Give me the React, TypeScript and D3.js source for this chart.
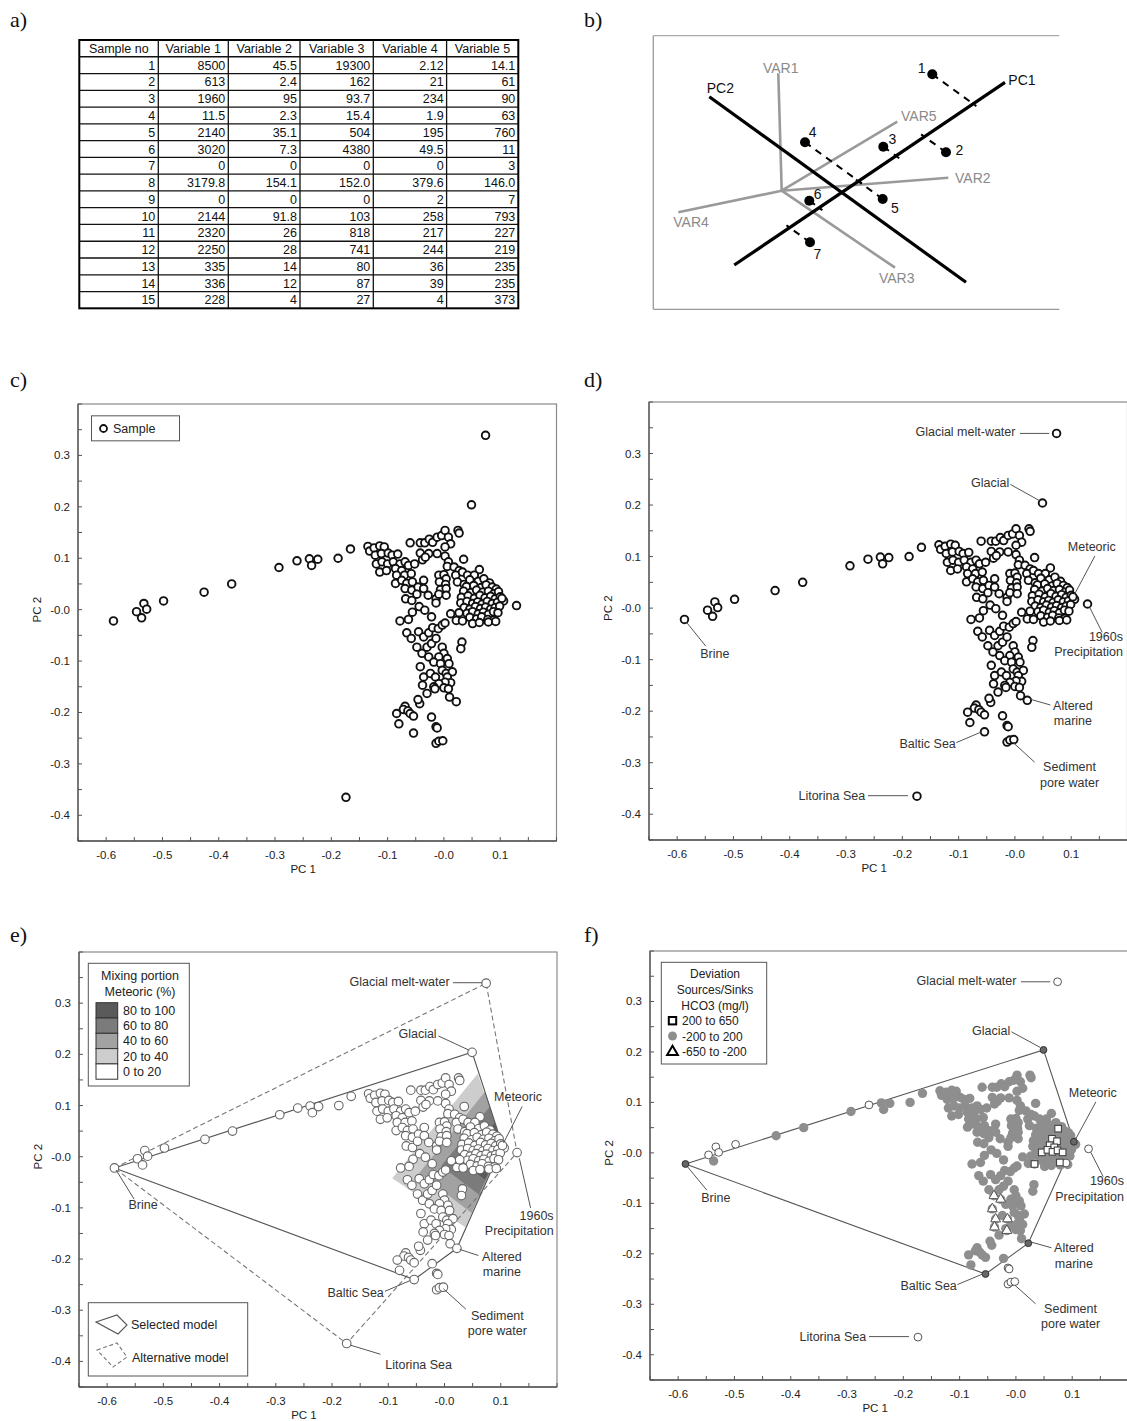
import React from 'react';
import * as d3 from 'd3';

const FONT = '"Liberation Sans", Arial, Helvetica, sans-serif';
const SERIF = '"Liberation Serif", "Times New Roman", serif';

// ---- a) table ----
const tableHeader = ['Sample no', 'Variable 1', 'Variable 2', 'Variable 3', 'Variable 4', 'Variable 5'];
const sampleNos = ['1', '2', '3', '4', '5', '6', '7', '8', '9', '10', '11', '12', '13', '14', '15'];
const variable1 = ['8500', '613', '1960', '11.5', '2140', '3020', '0', '3179.8', '0', '2144', '2320', '2250', '335', '336', '228'];
const variable2 = ['45.5', '2.4', '95', '2.3', '35.1', '7.3', '0', '154.1', '0', '91.8', '26', '28', '14', '12', '4'];
const variable3 = ['19300', '162', '93.7', '15.4', '504', '4380', '0', '152.0', '0', '103', '818', '741', '80', '87', '27'];
const variable4 = ['2.12', '21', '234', '1.9', '195', '49.5', '0', '379.6', '2', '258', '217', '244', '36', '39', '4'];
const variable5 = ['14.1', '61', '90', '63', '760', '11', '3', '146.0', '7', '793', '227', '219', '235', '235', '373'];

// ---- b) schematic (sketch units) ----
const schemeAxes = [
  { name: 'PC1', from: [94.3, 240], to: [365, 57.3], label: [368.3, 55] },
  { name: 'PC2', from: [69.3, 71.7], to: [326, 257.3], label: [66.7, 63.3] },
];
const varOrigin = [141.7, 165.7];
const schemeVars = [
  { name: 'VAR1', tip: [138.3, 48.3], label: [140.7, 42.7], anchor: 'middle' },
  { name: 'VAR5', tip: [257.3, 96.7], label: [261, 90.7], anchor: 'start' },
  { name: 'VAR2', tip: [308.3, 152.7], label: [315, 152.7], anchor: 'start' },
  { name: 'VAR4', tip: [38.3, 187.3], label: [33.3, 197.3], anchor: 'start' },
  { name: 'VAR3', tip: [255, 242.7], label: [256.7, 253.3], anchor: 'middle' },
];
const schemePoints = [
  { id: '1', p: [292.3, 49.3], label: [281.7, 42.7] },
  { id: '2', p: [306, 127.3], label: [319.3, 125] },
  { id: '3', p: [243.3, 121.7], label: [252.3, 114] },
  { id: '4', p: [165, 117.3], label: [172.7, 107.3] },
  { id: '5', p: [242.7, 174], label: [255, 183.3] },
  { id: '6', p: [169.3, 175.7], label: [177.7, 169.3] },
  { id: '7', p: [170, 217.3], label: [177.3, 228.7] },
];

// ---- c-f) PCA scores: [PC1, PC2, HCO3 class] g=-200..200, s=200..650, t=-650..-200, n=outside model
type S = [number, number, string?];
const brineArm: S[] = [
  [-0.546, -0.004, 'n'], [-0.533, 0.012, 'n'], [-0.528, 0.001, 'n'], [-0.537, -0.016], [-0.498, 0.017, 'n'],
  [-0.426, 0.034], [-0.377, 0.05], [-0.293, 0.082], [-0.261, 0.095, 'n'], [-0.239, 0.099], [-0.235, 0.086],
  [-0.224, 0.098], [-0.188, 0.1], [-0.166, 0.118],
];
const upperLeft: S[] = [
  [-0.135, 0.123], [-0.132, 0.114], [-0.124, 0.12], [-0.114, 0.124], [-0.106, 0.122], [-0.122, 0.106],
  [-0.111, 0.109], [-0.099, 0.11], [-0.092, 0.106], [-0.082, 0.108], [-0.12, 0.089], [-0.11, 0.093],
  [-0.1, 0.089], [-0.09, 0.093], [-0.078, 0.089], [-0.069, 0.093], [-0.114, 0.073], [-0.102, 0.076],
  [-0.086, 0.08], [-0.075, 0.076], [-0.063, 0.086], [-0.052, 0.089], [-0.084, 0.067], [-0.07, 0.067],
  [-0.058, 0.07], [-0.086, 0.051], [-0.075, 0.057], [-0.066, 0.051], [-0.056, 0.054], [-0.069, 0.041],
  [-0.057, 0.038], [-0.046, 0.044], [-0.036, 0.057], [-0.068, 0.021], [-0.057, 0.018], [-0.048, 0.03],
  [-0.036, 0.041], [-0.028, 0.028], [-0.014, 0.021], [-0.056, -0.005], [-0.044, 0.006], [-0.034, -0.001],
  [-0.022, -0.014], [-0.078, -0.022], [-0.063, -0.019],
];
const upperMiddle: S[] = [
  [-0.06, 0.13], [-0.042, 0.13], [-0.034, 0.13], [-0.026, 0.137], [-0.02, 0.131], [-0.012, 0.141],
  [-0.004, 0.144], [0.002, 0.154], [0.008, 0.141], [0.012, 0.128], [0.002, 0.122], [-0.012, 0.109],
  [-0.027, 0.109], [-0.042, 0.11], [-0.038, 0.097], [-0.033, 0.102], [0.002, 0.104], [0.008, 0.093],
  [0.006, 0.084], [0.018, 0.083], [0.025, 0.154], [0.027, 0.149], [0.035, 0.098], [0.027, 0.076],
  [0.021, 0.067], [0.033, 0.073], [0.042, 0.067], [0.05, 0.058], [0.063, 0.078], [0.054, 0.067],
  [0.024, 0.054], [0.036, 0.049],
];
const midColumn: S[] = [
  [-0.009, 0.067], [0.0, 0.068], [0.004, 0.06], [-0.008, 0.054], [0.003, 0.049], [-0.006, 0.039],
  [0.004, 0.041], [-0.009, 0.03], [0.004, 0.028], [-0.014, 0.013],
];
const rightCluster: S[] = [
  [0.046, 0.058], [0.061, 0.055], [0.071, 0.06], [0.081, 0.052],
  [0.04, 0.045], [0.053, 0.047], [0.066, 0.043], [0.075, 0.048, 's'], [0.086, 0.044], [0.093, 0.04],
  [0.035, 0.036], [0.048, 0.033], [0.058, 0.038], [0.069, 0.034], [0.079, 0.036], [0.089, 0.031], [0.097, 0.035],
  [0.031, 0.024], [0.043, 0.027], [0.054, 0.022], [0.064, 0.028, 's'], [0.073, 0.023, 's'], [0.083, 0.026],
  [0.091, 0.021], [0.1, 0.025],
  [0.03, 0.013], [0.041, 0.016], [0.051, 0.012], [0.06, 0.015, 's'], [0.068, 0.011, 's'], [0.077, 0.016],
  [0.086, 0.012], [0.095, 0.014], [0.106, 0.017],
  [0.036, 0.004], [0.046, 0.001, 's'], [0.056, 0.006, 's'], [0.065, 0.002, 's'], [0.074, 0.005, 's'],
  [0.083, 0.001, 's'], [0.091, 0.004], [0.099, 0.007],
  [0.041, -0.007], [0.051, -0.004], [0.061, -0.008], [0.07, -0.005], [0.079, -0.009], [0.088, -0.004], [0.096, -0.006],
  [0.046, -0.015], [0.058, -0.018], [0.067, -0.014], [0.078, -0.019, 's'], [0.089, -0.02, 'n'],
  [0.051, -0.027], [0.063, -0.025], [0.079, -0.024], [0.092, -0.023],
  [0.012, -0.008], [0.022, -0.021], [0.033, -0.022, 's'], [0.027, -0.006],
];
const lowerArm: S[] = [
  [-0.066, -0.045], [-0.058, -0.056], [-0.045, -0.043], [-0.036, -0.053], [-0.027, -0.045], [-0.02, -0.035],
  [-0.01, -0.037], [-0.003, -0.03], [0.002, -0.026], [-0.048, -0.073], [-0.039, -0.085, 't'], [-0.03, -0.073],
  [-0.022, -0.066], [-0.014, -0.056], [-0.003, -0.073], [0.0, -0.085], [0.006, -0.095], [-0.009, -0.092],
  [-0.027, -0.092, 't'], [-0.018, -0.102], [-0.006, -0.105], [0.009, -0.105], [-0.042, -0.111, 't'],
  [-0.036, -0.131, 't'], [-0.024, -0.124], [-0.015, -0.131, 't'], [-0.003, -0.118], [0.004, -0.124],
  [0.015, -0.121], [0.006, -0.131], [0.012, -0.142], [0.002, -0.141], [-0.009, -0.144], [-0.018, -0.15],
  [-0.038, -0.147, 't'], [-0.03, -0.163], [-0.016, -0.154, 't'], [0.0, -0.152], [0.008, -0.154],
  [0.01, -0.17], [0.032, -0.063], [0.03, -0.076],
];
const lowerScatter: S[] = [
  [-0.069, -0.188], [-0.072, -0.194], [-0.064, -0.197], [-0.06, -0.202], [-0.054, -0.207], [-0.084, -0.202],
  [-0.08, -0.222], [-0.043, -0.183], [-0.046, -0.175], [-0.022, -0.209], [-0.014, -0.228, 'n'],
  [-0.012, -0.23, 'n'], [-0.014, -0.26, 'n'], [-0.009, -0.256, 'n'], [-0.002, -0.255, 'n'],
];
const samples: S[] = [...brineArm, ...upperLeft, ...upperMiddle, ...midColumn, ...rightCluster, ...lowerArm, ...lowerScatter];

const endMembers = [
  { name: 'Brine', x: -0.587, y: -0.022, model: true },
  { name: 'Glacial melt-water', x: 0.074, y: 0.339, model: false },
  { name: 'Glacial', x: 0.049, y: 0.204, model: true },
  { name: 'Meteoric', x: 0.103, y: 0.022, model: true },
  { name: '1960s Precipitation', x: 0.129, y: 0.008, model: false },
  { name: 'Altered marine', x: 0.022, y: -0.179, model: true },
  { name: 'Baltic Sea', x: -0.054, y: -0.24, model: true },
  { name: 'Litorina Sea', x: -0.174, y: -0.365, model: false },
];
const selectedModel = ['Brine', 'Glacial', 'Meteoric', 'Altered marine', 'Baltic Sea'];
const alternativeModel = ['Brine', 'Glacial melt-water', '1960s Precipitation', 'Litorina Sea'];

// meteoric mixing portion contours: [on Glacial-Meteoric edge, apex, on Meteoric-Altered edge]
const mixLegend = ['80 to 100', '60 to 80', '40 to 60', '20 to 40', '0 to 20'];
const mixColors = ['#5a5a5a', '#7b7b7b', '#a2a2a2', '#cdcdcd', '#ffffff'];
const mixBands = [
  { level: 20, pts: [[0.059, 0.162], [-0.093, -0.042], [0.037, -0.138]] },
  { level: 40, pts: [[0.072, 0.127], [-0.045, -0.032], [0.048, -0.11]] },
  { level: 60, pts: [[0.08, 0.097], [-0.006, -0.018], [0.061, -0.074]] },
  { level: 80, pts: [[0.089, 0.065], [0.031, -0.01], [0.072, -0.045]] },
];

const hco3Legend = ['200 to 650', '-200 to 200', '-650 to -200'];

type Lab = { lines: string[]; x: number; y: number; anchor: string; leader: number[] };
const labelsDF: Lab[] = [
  { lines: ['Glacial melt-water'], x: 0.001, y: 0.341, anchor: 'end', leader: [0.009, 0.339, 0.061, 0.339] },
  { lines: ['Glacial'], x: -0.01, y: 0.242, anchor: 'end', leader: [-0.008, 0.24, 0.043, 0.209] },
  { lines: ['Meteoric'], x: 0.094, y: 0.119, anchor: 'start', leader: [0.142, 0.101, 0.106, 0.027] },
  { lines: ['1960s', 'Precipitation'], x: 0.192, y: -0.056, anchor: 'end', leader: [0.133, 0.001, 0.155, -0.047] },
  { lines: ['Brine'], x: -0.533, y: -0.09, anchor: 'middle', leader: [-0.583, -0.028, -0.549, -0.074] },
  { lines: ['Altered', 'marine'], x: 0.103, y: -0.189, anchor: 'middle', leader: [0.028, -0.177, 0.063, -0.188] },
  { lines: ['Baltic Sea'], x: -0.105, y: -0.263, anchor: 'end', leader: [-0.104, -0.261, -0.059, -0.24] },
  { lines: ['Sediment', 'pore water'], x: 0.097, y: -0.309, anchor: 'middle', leader: [-0.002, -0.262, 0.035, -0.299] },
  { lines: ['Litorina Sea'], x: -0.266, y: -0.364, anchor: 'end', leader: [-0.261, -0.364, -0.19, -0.364] },
];
const labelsE: Lab[] = [
  { lines: ['Glacial melt-water'], x: 0.009, y: 0.342, anchor: 'end', leader: [0.015, 0.34, 0.067, 0.34] },
  { lines: ['Glacial'], x: -0.014, y: 0.239, anchor: 'end', leader: [-0.011, 0.236, 0.044, 0.208] },
  { lines: ['Meteoric'], x: 0.088, y: 0.117, anchor: 'start', leader: [0.138, 0.098, 0.105, 0.027] },
  { lines: ['1960s', 'Precipitation'], x: 0.194, y: -0.115, anchor: 'end', leader: [0.133, -0.003, 0.153, -0.1] },
  { lines: ['Brine'], x: -0.536, y: -0.094, anchor: 'middle', leader: [-0.584, -0.026, -0.552, -0.083] },
  { lines: ['Altered', 'marine'], x: 0.102, y: -0.195, anchor: 'middle', leader: [0.027, -0.181, 0.06, -0.193] },
  { lines: ['Baltic Sea'], x: -0.108, y: -0.266, anchor: 'end', leader: [-0.106, -0.263, -0.061, -0.242] },
  { lines: ['Sediment', 'pore water'], x: 0.094, y: -0.311, anchor: 'middle', leader: [-0.002, -0.258, 0.038, -0.298] },
  { lines: ['Litorina Sea'], x: -0.046, y: -0.407, anchor: 'middle', leader: [-0.168, -0.368, -0.114, -0.386] },
];

// ---- layout ----
type Frame = { l: number; r: number; t: number; b: number };
const frameC: Frame = { l: 78, r: 556.5, t: 404, b: 841 };
const frameD: Frame = { l: 649, r: 1127.5, t: 402, b: 840 };
const frameE: Frame = { l: 79, r: 557, t: 952, b: 1387 };
const frameF: Frame = { l: 650, r: 1128.5, t: 951, b: 1380 };

function scalesFor(f: Frame) {
  const x = d3.scaleLinear().domain([-0.65, 0.2]).range([f.l, f.r]);
  const y = d3.scaleLinear().domain([-0.45, 0.4]).range([f.b, f.t]);
  return { x, y };
}

const tickFmt = (v: number) => (Math.abs(v) < 1e-9 ? '-0.0' : v.toFixed(1));
const emByName = (n: string) => endMembers.find((e) => e.name === n)!;

function Axes({ f, x, y }: { f: Frame; x: any; y: any }) {
  const xt = d3.range(-13, 5).map((i) => i * 0.05);
  const yt = d3.range(-9, 9).map((i) => i * 0.05);
  return (
    <g fontFamily={FONT} fontSize={11.5} fill="#222">
      <rect x={f.l} y={f.t} width={f.r - f.l} height={f.b - f.t} fill="none" stroke="#8a8a8a" strokeWidth={1.2} />
      <line x1={f.l} x2={f.l} y1={f.t} y2={f.b} stroke="#555" strokeWidth={1.3} />
      <line x1={f.l} x2={f.r} y1={f.b} y2={f.b} stroke="#555" strokeWidth={1.3} />
      {xt.map((v, i) => (
        <line key={'xt' + i} x1={x(v)} x2={x(v)} y1={f.b} y2={f.b - 4} stroke="#555" />
      ))}
      {yt.map((v, i) => (
        <line key={'yt' + i} x1={f.l} x2={f.l + 4} y1={y(v)} y2={y(v)} stroke="#555" />
      ))}
      {xt.filter((v, i) => i % 2 === 1 && v > -0.61 && v < 0.11).map((v, i) => (
        <text key={'xl' + i} x={x(v)} y={f.b + 18} textAnchor="middle">{tickFmt(v)}</text>
      ))}
      {yt.filter((v, i) => i % 2 === 1 && v > -0.41 && v < 0.31).map((v, i) => (
        <text key={'yl' + i} x={f.l - 8} y={y(v) + 4} textAnchor="end">{tickFmt(v)}</text>
      ))}
      <text x={x(-0.25)} y={f.b + 32} textAnchor="middle">PC 1</text>
      <text transform={`translate(${f.l - 37},${y(0)}) rotate(-90)`} textAnchor="middle">PC 2</text>
    </g>
  );
}

function Labels({ items, x, y }: { items: Lab[]; x: any; y: any }) {
  return (
    <g fontFamily={FONT} fontSize={12.5} fill="#333">
      {items.map((d, i) => (
        <g key={i}>
          <line x1={x(d.leader[0])} y1={y(d.leader[1])} x2={x(d.leader[2])} y2={y(d.leader[3])} stroke="#555" strokeWidth={1} />
          {d.lines.map((t, j) => (
            <text key={j} x={x(d.x)} y={y(d.y) + j * 15.5} textAnchor={d.anchor as any} dominantBaseline="central">{t}</text>
          ))}
        </g>
      ))}
    </g>
  );
}

function Table() {
  const colW = [79, 70, 71.7, 73.3, 73.3, 71.7];
  const x0 = 79.3, y0 = 40, rowH = 16.77;
  const colX = colW.reduce((acc, w) => [...acc, acc[acc.length - 1] + w], [x0]);
  const columns = [sampleNos, variable1, variable2, variable3, variable4, variable5];
  const nRows = sampleNos.length + 1;
  const h = nRows * rowH;
  return (
    <g fontFamily={FONT} fontSize={12.5} fill="#111">
      <rect x={x0} y={y0} width={colX[6] - x0} height={h} fill="#fff" stroke="#000" strokeWidth={2} />
      {d3.range(1, nRows).map((r) => (
        <line key={'r' + r} x1={x0} x2={colX[6]} y1={y0 + r * rowH} y2={y0 + r * rowH} stroke="#111" strokeWidth={1.3} />
      ))}
      {colX.slice(1, 6).map((cx, i) => (
        <line key={'c' + i} x1={cx} x2={cx} y1={y0} y2={y0 + h} stroke="#111" strokeWidth={1.3} />
      ))}
      {tableHeader.map((t, i) => (
        <text key={'h' + i} x={(colX[i] + colX[i + 1]) / 2} y={y0 + rowH / 2 + 4.5} textAnchor="middle">{t}</text>
      ))}
      {columns.map((col, ci) =>
        col.map((v, ri) => (
          <text key={ci + '-' + ri} x={colX[ci + 1] - 3} y={y0 + (ri + 1) * rowH + rowH / 2 + 4.5} textAnchor="end">{v}</text>
        ))
      )}
    </g>
  );
}

function Scheme() {
  const sx = d3.scaleLinear().domain([0, 480]).range([640, 1120]);
  const sy = d3.scaleLinear().domain([0, 290]).range([25, 315]);
  const a1 = schemeAxes[0], a2 = schemeAxes[1];
  const d1 = [a1.to[0] - a1.from[0], a1.to[1] - a1.from[1]];
  const d2 = [a2.to[0] - a2.from[0], a2.to[1] - a2.from[1]];
  const n2 = Math.hypot(d2[0], d2[1]);
  // foot of each sample along the PC2 direction on the PC1 line
  const project = (p: number[]) => {
    const ax = a1.from[0] - p[0], ay = a1.from[1] - p[1];
    const det = -d2[0] * d1[1] + d1[0] * d2[1];
    const s = (ax * -d1[1] + d1[0] * ay) / det;
    const ext = (s >= 0 ? 4 : -4) / n2;
    return [p[0] + (s + ext) * d2[0], p[1] + (s + ext) * d2[1]];
  };
  return (
    <g fontFamily={FONT} fontSize={14}>
      <line x1={sx(13.3)} x2={sx(13.3)} y1={sy(10.7)} y2={sy(284.3)} stroke="#999" strokeWidth={1.3} />
      <line x1={sx(13.3)} x2={sx(419.3)} y1={sy(10.7)} y2={sy(10.7)} stroke="#aaa" strokeWidth={1.3} />
      <line x1={sx(13.3)} x2={sx(419.3)} y1={sy(284.3)} y2={sy(284.3)} stroke="#999" strokeWidth={1.3} />
      {schemeVars.map((v) => (
        <g key={v.name}>
          <line x1={sx(varOrigin[0])} y1={sy(varOrigin[1])} x2={sx(v.tip[0])} y2={sy(v.tip[1])} stroke="#9a9a9a" strokeWidth={2.6} />
          <text x={sx(v.label[0])} y={sy(v.label[1])} textAnchor={v.anchor as any} dominantBaseline="central" fill="#8a8a8a">{v.name}</text>
        </g>
      ))}
      {schemePoints.map((p) => {
        const q = project(p.p);
        return (
          <line key={'pr' + p.id} x1={sx(p.p[0])} y1={sy(p.p[1])} x2={sx(q[0])} y2={sy(q[1])} stroke="#000" strokeWidth={2} strokeDasharray="7 6" />
        );
      })}
      {schemeAxes.map((a) => (
        <g key={a.name}>
          <line x1={sx(a.from[0])} y1={sy(a.from[1])} x2={sx(a.to[0])} y2={sy(a.to[1])} stroke="#000" strokeWidth={3.2} />
          <text x={sx(a.label[0])} y={sy(a.label[1])} dominantBaseline="central" fill="#111">{a.name}</text>
        </g>
      ))}
      {schemePoints.map((p) => (
        <g key={p.id}>
          <circle cx={sx(p.p[0])} cy={sy(p.p[1])} r={5} fill="#000" />
          <text x={sx(p.label[0])} y={sy(p.label[1])} textAnchor="middle" dominantBaseline="central" fill="#111">{p.id}</text>
        </g>
      ))}
    </g>
  );
}

function PanelC({ f }: { f: Frame }) {
  const { x, y } = scalesFor(f);
  return (
    <g>
      <Axes f={f} x={x} y={y} />
      {[...samples, ...endMembers.map((e) => [e.x, e.y])].map((d, i) => (
        <circle key={i} cx={x(d[0])} cy={y(d[1])} r={3.8} fill="#fff" stroke="#111" strokeWidth={1.9} />
      ))}
    </g>
  );
}

function PanelE({ f }: { f: Frame }) {
  const { x, y } = scalesFor(f);
  const met = emByName('Meteoric');
  const line = d3.line<number[]>().x((d) => x(d[0])).y((d) => y(d[1]));
  const poly = (names: string[]) => line([...names, names[0]].map((n) => [emByName(n).x, emByName(n).y]))!;
  return (
    <g>
      {mixBands.map((b, i) => (
        <path key={b.level} d={line([...b.pts, [met.x, met.y]])! + 'Z'} fill={mixColors[3 - i]} stroke="none" />
      ))}
      <path d={poly(alternativeModel)} fill="none" stroke="#777" strokeWidth={1.1} strokeDasharray="5 3" />
      <path d={poly(selectedModel)} fill="none" stroke="#555" strokeWidth={1.1} />
      {[...samples, ...endMembers.map((e) => [e.x, e.y])].map((d, i) => (
        <circle key={i} cx={x(d[0])} cy={y(d[1])} r={4.3} fill="#fff" stroke="#666" strokeWidth={1.1} />
      ))}
      <Axes f={f} x={x} y={y} />
      <Labels items={labelsE} x={x} y={y} />
      <g fontFamily={FONT} fontSize={12.5} fill="#222">
        <rect x={88.3} y={963.3} width={101} height={122.7} fill="#fff" stroke="#555" />
        <text x={140} y={980} textAnchor="middle">Mixing portion</text>
        <text x={140} y={996} textAnchor="middle">Meteoric (%)</text>
        {mixLegend.map((t, i) => (
          <g key={t}>
            <rect x={96} y={1002.7 + i * 15.3} width={21.7} height={15.3} fill={mixColors[i]} stroke="#333" strokeWidth={1} />
            <text x={123} y={1002.7 + i * 15.3 + 12}>{t}</text>
          </g>
        ))}
        <rect x={88.3} y={1302.7} width={159.4} height={73.3} fill="#fff" stroke="#555" />
        <path d="M96,1322L117,1315L127,1325L118,1334Z" fill="none" stroke="#555" strokeWidth={1.1} />
        <text x={131} y={1328.5}>Selected model</text>
        <path d="M97,1350L117,1343L127,1357L113,1367Z" fill="none" stroke="#777" strokeWidth={1.1} strokeDasharray="4 2.5" />
        <text x={132} y={1361.5}>Alternative model</text>
      </g>
    </g>
  );
}

function PanelF({ f }: { f: Frame }) {
  const { x, y } = scalesFor(f);
  const line = d3.line<number[]>().x((d) => x(d[0])).y((d) => y(d[1]));
  const poly = line([...selectedModel, selectedModel[0]].map((n) => [emByName(n).x, emByName(n).y]))!;
  const tri = d3.symbol().type(d3.symbolTriangle).size(42)()!;
  return (
    <g>
      <path d={poly} fill="none" stroke="#555" strokeWidth={1.1} />
      {samples.filter((d) => d[2] !== 'n').map((d, i) => (
        <circle key={'g' + i} cx={x(d[0])} cy={y(d[1])} r={4.7} fill="#8e8e8e" />
      ))}
      {samples.filter((d) => d[2] === 'n').map((d, i) => (
        <circle key={'n' + i} cx={x(d[0])} cy={y(d[1])} r={3.9} fill="#fff" stroke="#555" strokeWidth={1} />
      ))}
      {samples.filter((d) => d[2] === 's').map((d, i) => (
        <rect key={'s' + i} x={x(d[0]) - 3.3} y={y(d[1]) - 3.3} width={6.6} height={6.6} fill="#fff" stroke="#444" strokeWidth={1.1} />
      ))}
      {samples.filter((d) => d[2] === 't').map((d, i) => (
        <path key={'t' + i} d={tri} transform={`translate(${x(d[0])},${y(d[1])})`} fill="#fff" stroke="#555" strokeWidth={1} />
      ))}
      {endMembers.map((e) =>
        e.model ? (
          <circle key={e.name} cx={x(e.x)} cy={y(e.y)} r={3.4} fill="#666" stroke="#333" strokeWidth={1} />
        ) : (
          <circle key={e.name} cx={x(e.x)} cy={y(e.y)} r={3.9} fill="#fff" stroke="#555" strokeWidth={1} />
        )
      )}
      <Axes f={f} x={x} y={y} />
      <Labels items={labelsDF} x={x} y={y} />
      <g fontFamily={FONT} fontSize={12} fill="#222">
        <rect x={661.3} y={962.3} width={105.4} height={101.7} fill="#fff" stroke="#555" />
        <text x={715} y={978} textAnchor="middle">Deviation</text>
        <text x={715} y={994} textAnchor="middle">Sources/Sinks</text>
        <text x={715} y={1010} textAnchor="middle">HCO3 (mg/l)</text>
        <rect x={668.8} y={1017} width={7.4} height={7.4} fill="#fff" stroke="#000" strokeWidth={2} />
        <circle cx={672.5} cy={1036} r={4.5} fill="#8e8e8e" />
        <path d={d3.symbol().type(d3.symbolTriangle).size(50)()!} transform="translate(672.5,1052)" fill="#fff" stroke="#000" strokeWidth={2} />
        {hco3Legend.map((t, i) => (
          <text key={t} x={682} y={1025 + i * 15.5}>{t}</text>
        ))}
      </g>
    </g>
  );
}

function PanelD({ f }: { f: Frame }) {
  const { x, y } = scalesFor(f);
  return (
    <g>
      <PanelC f={f} />
      <Labels items={labelsDF} x={x} y={y} />
    </g>
  );
}

export default function App() {
  const { x: cx, y: cy } = scalesFor(frameC);
  return (
    <svg width={1127} height={1421} style={{ position: 'absolute', left: 0, top: 0, background: '#fff' }}>
      <rect width={1127} height={1421} fill="#fff" />
      <g fontFamily={SERIF} fontSize={22} fill="#111">
        <text x={10} y={27}>a)</text>
        <text x={584} y={27}>b)</text>
        <text x={10} y={387}>c)</text>
        <text x={584} y={387}>d)</text>
        <text x={10} y={942}>e)</text>
        <text x={584} y={942}>f)</text>
      </g>
      <Table />
      <Scheme />
      <PanelC f={frameC} />
      <g fontFamily={FONT} fontSize={12.5} fill="#222">
        <rect x={cx(-0.626)} y={cy(0.377)} width={88} height={25} fill="#fff" stroke="#555" />
        <circle cx={103.5} cy={428.5} r={3.5} fill="#fff" stroke="#111" strokeWidth={1.8} />
        <text x={113} y={433}>Sample</text>
      </g>
      <PanelD f={frameD} />
      <PanelE f={frameE} />
      <PanelF f={frameF} />
    </svg>
  );
}
